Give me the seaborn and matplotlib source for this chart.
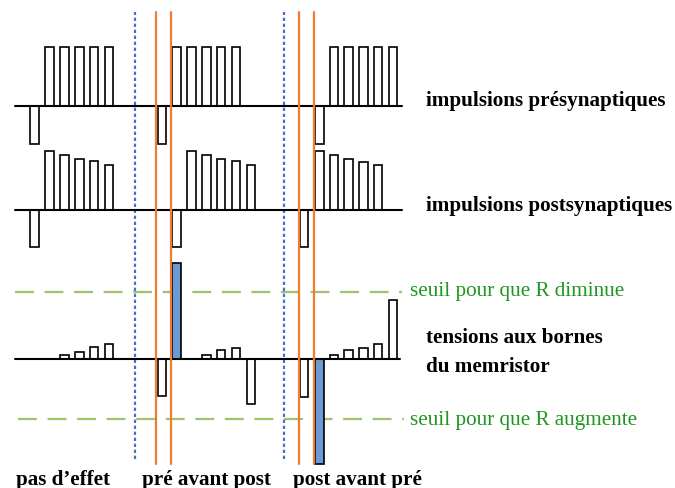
import matplotlib
matplotlib.use("Agg")
import matplotlib.pyplot as plt
import seaborn as sns

sns.set_theme(style="white")
plt.rcParams["font.family"] = ["Liberation Serif", "DejaVu Serif"]

# pulse start times and amplitudes for each row
pre_t = [30, 45, 60, 75, 89.5, 104.5,
         157.5, 172, 187, 202, 216.8, 231.8,
         315, 329.5, 344, 359, 373.5, 388.5]
pre_amp = [-38, 59, 59, 59, 59, 59,
           -38, 59, 59, 59, 59, 59,
           -38, 59, 59, 59, 59, 59]

post_t = [30, 45, 60, 75, 89.5, 104.5,
          172, 187, 202, 216.8, 231.8, 246.8,
          299.5, 315, 329.5, 344, 359, 373.5]
post_amp = [-37, 59, 55, 51.5, 49, 45,
            -37, 59, 55, 51.5, 49, 45,
            -37, 59, 55, 51.5, 48.5, 45]

mem_t = [60, 75, 89.5, 104.5,
         157.5, 172, 202, 216.8, 231.8, 246.8,
         299.5, 315, 329.5, 344, 359, 373.5, 388.5]
mem_amp = [3.5, 6.5, 11.5, 15,
           -37.5, 96, 3.5, 8.5, 10.5, -45,
           -38, -105.5, 3.5, 8.5, 11, 14.5, 58.5]
mem_highlight = [172, 315]

# row baselines and thresholds
row_base = {"pre": 382.5, "post": 278, "mem": 129.5}
seuil_haut = 67
seuil_bas = -60.5
blue_marks = [134.7, 284]
orange_marks = [156, 171, 299, 314]

bar_w = 8.5
black = "#000000"

fig = plt.figure(figsize=(6.75, 4.89), dpi=100)
ax = fig.add_axes([0, 0, 1, 1])
ax.set_xlim(0, 675)
ax.set_ylim(0, 489)
ax.axis("off")

def draw_row(t, amp, base, highlight=()):
    for x, a in zip(t, amp):
        fc = "#6b9bd7" if x in highlight else "white"
        ax.bar(x, a, width=bar_w, bottom=base, align="edge",
               facecolor=fc, edgecolor=black, linewidth=1.2, zorder=3)

draw_row(pre_t, pre_amp, row_base["pre"])
draw_row(post_t, post_amp, row_base["post"])
draw_row(mem_t, mem_amp, row_base["mem"], mem_highlight)

for b, x1 in [(row_base["pre"], 402), (row_base["post"], 402), (row_base["mem"], 400)]:
    ax.plot([15, x1], [b, b], color=black, lw=1.5, zorder=4)

# seuils
ax.plot([15, 402], [row_base["mem"] + seuil_haut] * 2, color="#9fc26c", lw=1.6,
        linestyle=(0, (8.5, 4.8)), zorder=1)
ax.plot([18, 404], [row_base["mem"] + seuil_bas] * 2, color="#9fc26c", lw=1.6,
        linestyle=(0, (8.5, 4.8)), zorder=1)

for x in blue_marks:
    ax.plot([x, x], [29, 476], color="#4472c4", lw=1.6, linestyle=(0, (1.5, 1.2)), zorder=2)
for x in orange_marks:
    ax.plot([x, x], [24, 476], color="#ed7d31", lw=1.6, zorder=5)

bold = dict(fontsize=15.2, fontweight="bold", color=black, ha="left", va="baseline")
ax.text(425.7, 383, "impulsions présynaptiques", **bold)
ax.text(425.7, 277.5, "impulsions postsynaptiques", **bold)
ax.text(425.7, 145.7, "tensions aux bornes", **bold)
ax.text(425.7, 117.3, "du memristor", **bold)
ax.text(16, 4, "pas d’effet", **bold)
ax.text(141.7, 4, "pré avant post", **bold)
ax.text(292.7, 4, "post avant pré", **bold)

green = dict(fontsize=15.2, color="#1f961f", ha="left", va="baseline")
ax.text(410, 193, "seuil pour que R diminue", **green)
ax.text(410, 64, "seuil pour que R augmente", **green)

fig.savefig("out.png", dpi=100)
